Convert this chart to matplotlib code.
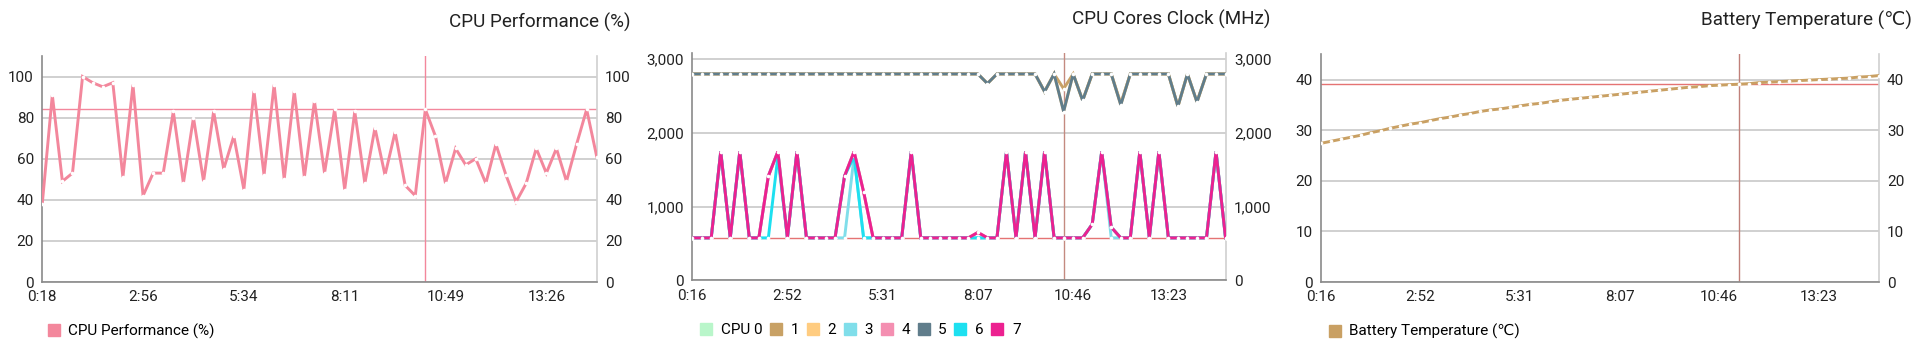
import matplotlib.pyplot as plt
from matplotlib.ticker import FuncFormatter
from matplotlib.lines import Line2D

plt.rcParams['font.family'] = ['Roboto', 'DejaVu Sans']

# CPU performance (%), one sample per ~16 s
perf = [38, 91, 49, 53, 100, 97, 95, 97, 51, 96, 42, 53, 53, 83, 48,
        80, 49, 83, 55, 71, 45, 93, 52, 96, 50, 93, 51, 88, 53, 84,
        45, 83, 48, 75, 52, 73, 47, 42, 84, 71, 48, 65, 57, 60, 48,
        67, 52, 39, 48, 65, 53, 65, 49, 67, 84, 61]
perf_ticks = ["0:18", "2:56", "5:34", "8:11", "10:49", "13:26"]
perf_cursor = 38

# CPU cores clock (MHz)
cpu7 = [576, 576, 576, 1747, 576, 1747, 576, 576, 1415, 1747,
        576, 1747, 576, 576, 576, 576, 1415, 1747, 1200, 576,
        576, 576, 576, 1747, 576, 576, 576, 576, 576, 576,
        650, 576, 576, 1747, 576, 1747, 576, 1747, 576, 576,
        576, 576, 760, 1747, 720, 576, 576, 1747, 576, 1747,
        576, 576, 576, 576, 576, 1747, 576]
cpu6 = [576, 576, 576, 1747, 576, 1747, 576, 576, 576, 1680,
        576, 1747, 576, 576, 576, 576, 1415, 1680, 576, 576,
        576, 576, 576, 1747, 576, 576, 576, 576, 576, 576,
        576, 576, 576, 1747, 576, 1747, 576, 1747, 576, 576,
        576, 576, 760, 1747, 720, 576, 576, 1747, 576, 1747,
        576, 576, 576, 576, 576, 1747, 576]
cpu3 = [576, 576, 576, 1747, 576, 1747, 576, 576, 1415, 1747,
        576, 1747, 576, 576, 576, 576, 576, 1680, 576, 576,
        576, 576, 576, 1747, 576, 576, 576, 576, 576, 576,
        576, 576, 576, 1747, 576, 1747, 576, 1747, 576, 576,
        576, 576, 760, 1747, 576, 576, 576, 1747, 576, 1747,
        576, 576, 576, 576, 576, 1747, 576]
cpu0 = list(cpu7)
cpu4 = list(cpu7)
cpu5 = [2800] * 31 + [2670, 2800, 2800, 2800, 2800, 2800, 2560, 2800, 2290,
                      2800, 2440, 2800, 2800, 2800, 2380, 2800, 2800, 2800,
                      2800, 2800, 2360, 2800, 2420, 2800, 2800, 2800]
cpu1 = [2800] * 31 + [2670, 2800, 2800, 2800, 2800, 2800, 2560, 2800, 2600,
                      2800, 2440, 2800, 2800, 2800, 2400, 2800, 2800, 2800,
                      2800, 2800, 2360, 2800, 2420, 2800, 2800, 2800]
cpu2 = list(cpu5)
cores = [cpu0, cpu1, cpu2, cpu3, cpu4, cpu5, cpu6, cpu7]
core_names = ["CPU 0", "1", "2", "3", "4", "5", "6", "7"]
core_colors = ["#B9F6CA", "#C8A165", "#FFCC80", "#80DEEA",
               "#F48FB1", "#607D8B", "#1DE0F0", "#EC2190"]
clock_ticks = ["0:16", "2:52", "5:31", "8:07", "10:46", "13:23"]
clock_cursor = 39

# Battery temperature (C)
temp = [27.4, 27.8, 28.2, 28.6, 29.0, 29.5, 29.9, 30.4, 30.8, 31.2,
        31.5, 31.9, 32.3, 32.6, 33.0, 33.3, 33.7, 34.0, 34.2, 34.5,
        34.8, 35.1, 35.3, 35.6, 35.9, 36.1, 36.3, 36.5, 36.7, 36.9,
        37.1, 37.3, 37.5, 37.7, 37.9, 38.1, 38.3, 38.5, 38.6, 38.8,
        38.9, 39.0, 39.1, 39.2, 39.4, 39.5, 39.6, 39.7, 39.8, 39.9,
        40.0, 40.1, 40.2, 40.3, 40.5, 40.6, 40.8]
temp_ticks = clock_ticks
temp_cursor = 42

PERF_C = "#F3879C"
TEMP_C = "#C9A063"
LEGEND_KW = dict(loc="upper left", frameon=False, fontsize=11,
                 handlelength=0.8, handletextpad=0.55, columnspacing=0.5,
                 borderaxespad=0, borderpad=0)


def style_axes(ax, n, ticklabels, ymax, yticks, fmt=None):
    ax.set_xlim(0, n - 1)
    ax.set_ylim(0, ymax)
    ax.set_xticks(range(0, n, 10))
    ax.set_xticklabels(ticklabels)
    ax.set_yticks(yticks)
    if fmt:
        ax.yaxis.set_major_formatter(FuncFormatter(fmt))
    ax.grid(axis="y", color="#c4c4c4", lw=1.1)
    ax.set_axisbelow(True)
    ax.tick_params(length=0, labelsize=11, colors="#222222",
                   labelright=True)
    ax.tick_params(axis="y", pad=6)
    ax.tick_params(axis="x", pad=6)
    ax.spines["top"].set_visible(False)
    ax.spines["right"].set_color("#d0d0d0")
    ax.spines["left"].set_color("#8a8a8a")
    ax.spines["bottom"].set_color("#8a8a8a")
    for s in ax.spines.values():
        s.set_linewidth(1.2)


def draw_series(ax, y, color, z=3):
    # white dots at each sample break the line into dashes
    ax.plot(range(len(y)), y, color=color, lw=2.1, zorder=z,
            solid_joinstyle="miter", marker="o", ms=2.6,
            mfc="white", mec="none")


def swatch(color, label):
    return Line2D([], [], ls="none", marker="s", ms=9, color=color,
                  label=label)


fig = plt.figure(figsize=(19.2, 3.45), dpi=100)

# CPU performance
ax1 = fig.add_axes([0.0220, 0.1826, 0.2888, 0.6551])
style_axes(ax1, len(perf), perf_ticks, 110, range(0, 101, 20))
draw_series(ax1, perf, PERF_C)
ax1.axvline(perf_cursor, color=PERF_C, lw=1, zorder=2)
ax1.axhline(perf[perf_cursor], color=PERF_C, lw=1, zorder=2)
fig.text(0.3284, 0.936, "CPU Performance (%)", ha="right", va="center",
         fontsize=13.6, color="#222222")
ax1.legend(handles=[swatch(PERF_C, "CPU Performance (%)")],
           bbox_to_anchor=(0.01, -0.185), **LEGEND_KW)

# CPU cores clock
ax2 = fig.add_axes([0.3605, 0.1875, 0.2778, 0.658])
style_axes(ax2, len(cpu7), clock_ticks, 3080, range(0, 3001, 1000),
           fmt=lambda v, p: f"{int(v):,}")
for i, (vals, col) in enumerate(zip(cores, core_colors)):
    draw_series(ax2, vals, col, z=3 + i * 0.1)
ax2.axvline(clock_cursor, color="#C48A80", lw=1, zorder=2)
ax2.axhline(cpu7[clock_cursor], color="#E57373", lw=1, zorder=2)
fig.text(0.6617, 0.945, "CPU Cores Clock (MHz)", ha="right", va="center",
         fontsize=13.6, color="#222222")
ax2.legend(handles=[swatch(c, n) for n, c in zip(core_names, core_colors)],
           bbox_to_anchor=(0.015, -0.19), ncol=8, **LEGEND_KW)

# Battery temperature
ax3 = fig.add_axes([0.6879, 0.1826, 0.2905, 0.66])
style_axes(ax3, len(temp), temp_ticks, 45, range(0, 41, 10))
draw_series(ax3, temp, TEMP_C)
ax3.axvline(temp_cursor, color="#C0807A", lw=1, zorder=2)
ax3.axhline(temp[temp_cursor], color="#E57373", lw=1, zorder=2)
fig.text(0.9958, 0.942, "Battery Temperature (\u2103)", ha="right",
         va="center", fontsize=13.6, color="#222222")
ax3.legend(handles=[swatch(TEMP_C, "Battery Temperature (\u2103)")],
           bbox_to_anchor=(0.014, -0.185), **LEGEND_KW)

fig.savefig("out.png", dpi=100, facecolor="white")
